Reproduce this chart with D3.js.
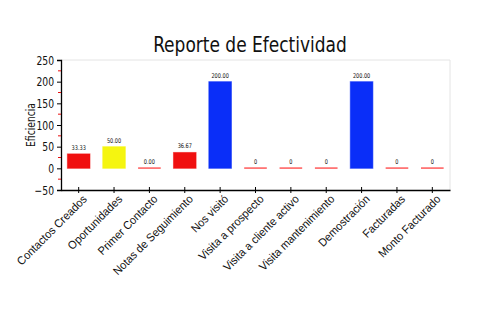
<!DOCTYPE html>
<html>
<head>
<meta charset="utf-8">
<script src="https://cdn.jsdelivr.net/npm/d3@7"></script>
<style>
  html, body { margin: 0; padding: 0; background: #fff; }
  svg { display: block; font-family: "DejaVu Sans Condensed", "DejaVu Sans", sans-serif; }
</style>
</head>
<body>
<svg id="chart" width="500" height="330"></svg>
<script>
// Indicadores del reporte
const categories = [
  "Contactos Creados", "Oportunidades", "Primer Contacto", "Notas de Seguimiento",
  "Nos visitó", "Visita a prospecto", "Visita a cliente activo", "Visita mantenimiento",
  "Demostración", "Facturadas", "Monto Facturado"
];
const values = [33.33, 50, 0, 36.67, 200, 0, 0, 0, 200, 0, 0];
const valueLabels = ["33.33", "50.00", "0.00", "36.67", "200.00", "0", "0", "0", "200.00", "0", "0"];
const barColors = ["#f01010", "#f5f510", "#f01010", "#f01010", "#0a2ef8", "#f01010", "#f01010", "#f01010", "#0a2ef8", "#f01010", "#f01010"];
const yTicks = [-50, 0, 50, 100, 150, 200, 250];
const yMinorTicks = [-25, 25, 75, 125, 175, 225];

const svg = d3.select("#chart");
const plotL = 61, plotR = 450, plotT = 60, plotB = 190;

const x = d3.scaleBand().domain(categories).range([plotL, plotR]).paddingInner(0.36).paddingOuter(0.18);
const xTick = d3.scaleBand().domain(categories).range([plotL, plotR]);
const y = d3.scaleLinear().domain([-50, 250]).range([plotB, plotT]);

// Narrow the glyphs of a text selection horizontally by the given factor
function squeeze(sel, factor) {
  sel.each(function () {
    const w = this.getComputedTextLength();
    if (w > 0) {
      d3.select(this)
        .attr("textLength", w * factor)
        .attr("lengthAdjust", "spacingAndGlyphs");
    }
  });
}

// Title
svg.append("text")
  .attr("x", 250).attr("y", 52)
  .attr("text-anchor", "middle")
  .attr("font-size", 22)
  .attr("fill", "#111")
  .text("Reporte de Efectividad")
  .call(squeeze, 0.86);

// Plot frame (top and right)
svg.append("path")
  .attr("d", `M${plotL},${plotT}H${plotR}V${plotB}`)
  .attr("fill", "none")
  .attr("stroke", "#e4e4e4");

// Bars
svg.append("g").selectAll("rect")
  .data(values)
  .join("rect")
  .attr("x", (d, i) => x(categories[i]))
  .attr("width", x.bandwidth())
  .attr("y", d => d > 0 ? y(d) : y(0) - 1)
  .attr("height", d => d > 0 ? y(0) - y(d) : 1.5)
  .attr("fill", (d, i) => d > 0 ? barColors[i] : "#ff5a5a")
  .attr("stroke", (d, i) => d > 0 ? barColors[i] : "none")
  .attr("stroke-opacity", 0.55)
  .attr("stroke-width", 1);

// Value labels
svg.append("g").selectAll("text")
  .data(values)
  .join("text")
  .attr("x", (d, i) => x(categories[i]) + x.bandwidth() / 2)
  .attr("y", d => y(Math.max(d, 0)) - 4)
  .attr("text-anchor", "middle")
  .attr("font-size", 6.5)
  .attr("fill", "#111")
  .text((d, i) => valueLabels[i])
  .call(squeeze, 0.85);

// Y axis
const yAxis = svg.append("g")
  .attr("transform", `translate(${plotL},0)`)
  .call(d3.axisLeft(y).tickValues(yTicks).tickSize(4).tickPadding(3));
yAxis.select(".domain").attr("stroke", "#000").attr("stroke-width", 1.3);
yAxis.selectAll("text")
  .attr("font-size", 12.5)
  .attr("fill", "#111")
  .attr("font-family", "'DejaVu Sans Condensed', 'DejaVu Sans', sans-serif")
  .call(squeeze, 0.82);
svg.append("g").selectAll("line")
  .data(yMinorTicks)
  .join("line")
  .attr("x1", plotL - 3).attr("x2", plotL)
  .attr("y1", d => y(d)).attr("y2", d => y(d))
  .attr("stroke", "#e81010").attr("stroke-width", 1);

// Y axis title
svg.append("text")
  .attr("transform", `translate(35,${(plotT + plotB) / 2}) rotate(-90)`)
  .attr("text-anchor", "middle")
  .attr("font-size", 12)
  .attr("fill", "#111")
  .text("Eficiencia")
  .call(squeeze, 0.85);

// X axis
const xAxis = svg.append("g")
  .attr("transform", `translate(0,${plotB})`)
  .call(d3.axisBottom(xTick).tickSize(4).tickSizeOuter(0).tickPadding(3));
xAxis.select(".domain").attr("stroke", "#000").attr("stroke-width", 1.5);
xAxis.selectAll(".tick line").attr("y1", -3).attr("y2", 3);
xAxis.selectAll("text")
  .attr("font-size", 11.5)
  .attr("fill", "#111")
  .attr("text-anchor", "end")
  .attr("dx", "-0.05em")
  .attr("dy", "0.55em")
  .attr("transform", "rotate(-45)")
  .call(squeeze, 0.95);
</script>
</body>
</html>
